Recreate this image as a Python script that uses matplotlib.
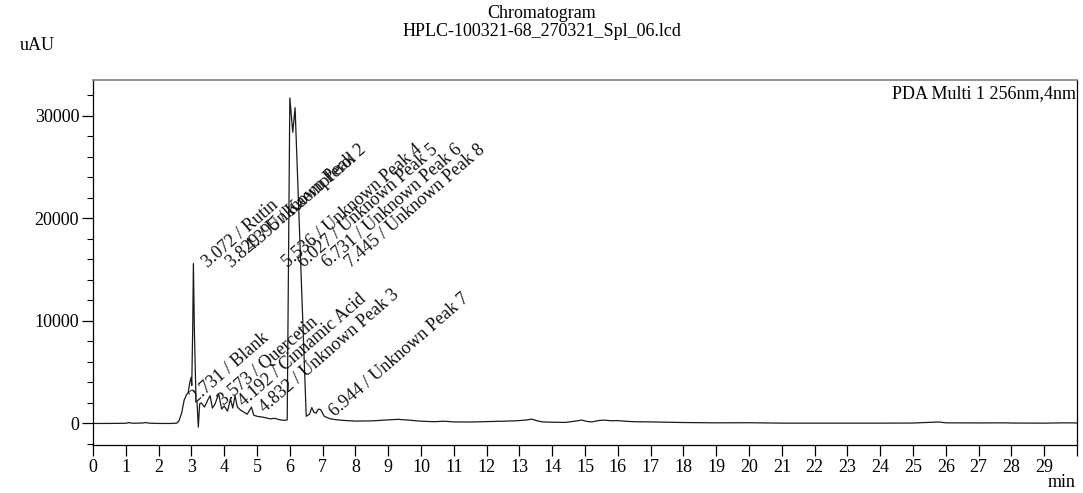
import numpy as np
import matplotlib
matplotlib.use('Agg')
import matplotlib.pyplot as plt
from matplotlib.ticker import MultipleLocator

plt.rcParams['font.family'] = ['Liberation Serif', 'DejaVu Serif']

# retention time (min) and detector signal (uAU)
time_min = [0.0, 0.5, 1.0, 1.1, 1.2, 1.5, 1.6, 1.7, 2.0, 2.4, 2.55, 2.62, 2.70, 2.78,
            2.85, 2.90, 2.95, 2.99, 3.01, 3.04, 3.06, 3.09, 3.14, 3.17, 3.21, 3.25,
            3.30, 3.40, 3.50, 3.57, 3.64, 3.72, 3.83, 3.92, 4.00, 4.10, 4.19, 4.26,
            4.33, 4.40, 4.50, 4.60, 4.70, 4.83, 4.90, 5.00, 5.20, 5.40, 5.54, 5.70,
            5.85, 5.92, 6.00, 6.09, 6.16, 6.50, 6.60, 6.67, 6.73, 6.80, 6.87, 6.94,
            7.05, 7.23, 7.45, 7.63, 8.0, 8.5, 9.0, 9.3, 9.6, 10.0, 10.4, 10.7, 11.0,
            11.5, 12.0, 12.5, 12.9, 13.2, 13.37, 13.55, 13.7, 14.0, 14.4, 14.75, 14.9,
            15.05, 15.2, 15.45, 15.6, 15.8, 16.0, 16.2, 16.5, 17.0, 17.5, 18.0, 19.0,
            20.0, 21.0, 22.0, 23.0, 24.0, 25.0, 25.6, 25.8, 26.0, 27.0, 27.8, 28.0,
            29.0, 29.6, 30.0]
signal = [0, 0, 20, 80, 20, 40, 90, 30, 0, 0, 30, 250, 1000, 2300,
          2800, 3000, 4000, 4500, 3700, 9500, 15600, 9000, 2200, 2100, -350, 1900,
          2000, 1600, 2300, 2700, 1500, 1900, 2900, 1400, 1700, 1200, 2400, 1500,
          2700, 1600, 1300, 1100, 900, 1600, 800, 700, 600, 450, 500, 350,
          300, 350, 31750, 28400, 30800, 700, 900, 1550, 1100, 1000, 1400, 1350,
          700, 450, 350, 300, 230, 250, 350, 400, 330, 220, 170, 220, 150,
          140, 180, 220, 260, 330, 420, 250, 150, 120, 100, 250, 330,
          200, 150, 300, 320, 260, 280, 220, 170, 150, 120, 90, 60,
          70, 30, 30, 30, 30, 40, 120, 140, 60, 50, 60, 40,
          30, 60, 50]

peak_times = [2.731, 3.072, 3.573, 3.829, 4.192, 4.395, 4.832, 5.536, 6.027, 6.731, 6.944, 7.445]
peak_names = ['Blank', 'Rutin', 'Quercetin', 'Unknown Peak 2', 'Cinnamic Acid', 'Kaempferol',
              'Unknown Peak 3', 'Unknown Peak 4', 'Unknown Peak 5', 'Unknown Peak 6',
              'Unknown Peak 7', 'Unknown Peak 8']

fig = plt.figure(figsize=(10.83, 4.93), dpi=100)
ax = fig.add_axes([0.0859, 0.0974, 0.9086, 0.7403])

ax.plot(time_min, signal, color='#1a1a1a', lw=0.9)

# label heights (two tiers like the instrument software)
label_y = [2000, 15200, 1700, 15200, 1650, 16700, 1000, 15200, 15200, 15200, 650, 15200]
for rt, name, ly in zip(peak_times, peak_names, label_y):
    ax.text(rt + 0.42, ly, '%.3f / %s' % (rt, name), rotation=41, rotation_mode='anchor',
            ha='left', va='baseline', fontsize=13, color='#111111')

ax.set_xlim(0, 30)
ax.set_ylim(-2100, 33500)
ax.set_xticks(range(0, 31))
ax.set_xticklabels([str(i) for i in range(30)] + [''])
ax.set_yticks([0, 10000, 20000, 30000])
ax.yaxis.set_minor_locator(MultipleLocator(2000))
ax.tick_params(axis='both', which='major', labelsize=13, direction='out', length=8, width=0.9, pad=2)
ax.tick_params(axis='y', which='minor', direction='out', length=4, width=0.8)
ax.spines['top'].set_color('0.5')
ax.spines['top'].set_linewidth(1.2)
for s in ['left', 'right', 'bottom']:
    ax.spines[s].set_linewidth(0.9)

ax.text(0.999, 0.985, 'PDA Multi 1 256nm,4nm', transform=ax.transAxes, ha='right', va='top', fontsize=13)

fig.text(0.5, 0.972, 'Chromatogram', ha='center', va='center', fontsize=13)
fig.text(0.5, 0.936, 'HPLC-100321-68_270321_Spl_06.lcd', ha='center', va='center', fontsize=13)
fig.text(0.018, 0.907, 'uAU', ha='left', va='center', fontsize=13)
fig.text(0.993, 0.022, 'min', ha='right', va='center', fontsize=13)

fig.savefig('out.png', dpi=100)
